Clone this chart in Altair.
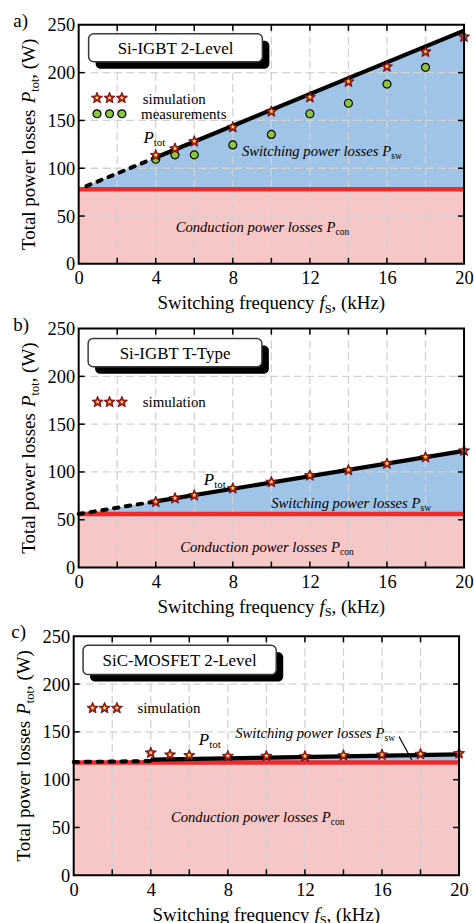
import math
import altair as alt
import pandas as pd

# ---------------- data ----------------
fs_sim = [4, 5, 6, 8, 10, 12, 14, 16, 18, 20]
fs_meas = [4, 5, 6, 8, 10, 12, 14, 16, 18]

sim_a = [114, 121, 128.5, 143.4, 159.8, 174.7, 191, 206.7, 222.3, 238]
meas_a = [109.4, 114, 114, 124.4, 135.4, 157, 168, 188, 205.6]
sim_b = [69.2, 72.9, 76, 83.3, 89.9, 96.8, 102.4, 109.2, 115.9, 122.7]
sim_c = [128.6, 126.5, 125.8, 125.1, 125.1, 124.8, 125.8, 126.5, 127.2, 127.9]

pcon_a, pcon_b, pcon_c = 78, 56, 118

dash_fs_a = [0.4, 4]
dash_a = [81.3, 111.2]
solid_fs_a = [4, 20]
solid_a = [111.2, 244]
area_fs_a = [0, 20]
area_a = [78, 244]

dash_fs_b = [0, 4]
dash_b = [56, 69.2]
solid_fs_b = [4, 20]
solid_b = [69.2, 122]
area_fs_b = [0, 20]
area_b = [56, 122]

dash_fs_c = [0, 4]
dash_c = [118.5, 119.5]
solid_fs_c = [4, 20]
solid_c = [121, 126.5]
area_fs_c = [0, 4, 20]
area_c = [118, 121, 126.5]

x_tick_labels = [0, 4, 8, 12, 16, 20]
y_tick_labels = [0, 50, 100, 150, 200, 250]
grid_x = [2, 4, 6, 8, 10, 12, 14, 16, 18]
grid_y = [50, 100, 150, 200]

box_titles = ["Si-IGBT 2-Level", "Si-IGBT T-Type", "SiC-MOSFET 2-Level"]
panel_tags = ["a)", "b)", "c)"]

# ---------------- styling ----------------
SERIF = "Liberation Serif"
W, H = 387, 240
PINK = "#f7c6c7"
BLUE = "#9fc4e7"
RED = "#ee2a2a"
GRID = "#d2d2d2"
STAR_FILL = "#b3161d"
STAR_STROKE = "#5e0909"
STAR_IN = "#f8ea3a"
GREEN = "#8cc63f"

pts = []
for k in range(10):
    a = math.radians(-90 + 36 * k)
    r = 1.0 if k % 2 == 0 else 0.45
    pts.append(f"{r * math.cos(a):.3f},{r * math.sin(a) + 0.09:.3f}")
STAR = "M" + "L".join(pts) + "Z"

REG = {' ': 250, '(': 333, ')': 333, ',': 250, '-': 333, '.': 250,
       'A': 722, 'B': 667, 'C': 667, 'D': 722, 'E': 611, 'F': 556, 'G': 722, 'H': 722,
       'I': 333, 'L': 611, 'M': 889, 'N': 722, 'O': 722, 'P': 556, 'S': 556, 'T': 611,
       'W': 944, 'a': 444, 'b': 500, 'c': 444, 'd': 500, 'e': 444, 'f': 333, 'g': 500,
       'h': 500, 'i': 278, 'k': 500, 'l': 278, 'm': 778, 'n': 500, 'o': 500, 'p': 500,
       'q': 500, 'r': 333, 's': 389, 't': 278, 'u': 500, 'v': 500, 'w': 722, 'y': 500,
       'z': 444}
for d in "0123456789":
    REG[d] = 500
ITA = {' ': 250, 'C': 667, 'P': 611, 'S': 500, 'a': 500, 'c': 444, 'd': 500, 'e': 444,
       'f': 278, 'g': 500, 'h': 500, 'i': 278, 'l': 278, 'n': 500, 'o': 500, 'p': 500,
       'r': 389, 's': 389, 't': 278, 'u': 500, 'w': 667}


def tw(s, size, italic=False):
    tab = ITA if italic else REG
    return sum(tab.get(c, 500) for c in s) * size / 1000.0


ONE = pd.DataFrame({"k": [0]})
ys = alt.Scale(domain=[0, 250], nice=False, zero=False)


def T(s, x, y, size, italic=False, angle=0, align="left", baseline="alphabetic"):
    kw = dict(text=s, font=SERIF, fontSize=size, color="black", align=align, baseline=baseline)
    if italic:
        kw["fontStyle"] = "italic"
    if angle:
        kw["angle"] = angle
    return alt.Chart(ONE).mark_text(**kw).encode(x=alt.value(x), y=alt.value(y))


def compose(pieces, x0, y0):
    out = []
    x = x0
    for s, size, it, dy in pieces:
        out.append(T(s, x, y0 + dy, size, it))
        x += tw(s, size, it)
    return out


def compose_v(pieces, x0, y0):
    out = []
    y = y0
    for s, size, it, dx in pieces:
        out.append(T(s, x0 + dx, y, size, it, angle=270))
        y -= tw(s, size, it)
    return out


def star_glyph(x, y):
    return [
        alt.Chart(ONE).mark_point(shape=STAR, filled=True, fill=STAR_FILL, stroke=STAR_STROKE,
                                  strokeWidth=0.8, size=140, opacity=1)
        .encode(x=alt.value(x), y=alt.value(y)),
        alt.Chart(ONE).mark_point(shape=STAR, filled=True, fill=STAR_IN, strokeWidth=0,
                                  size=22, opacity=1)
        .encode(x=alt.value(x), y=alt.value(y)),
    ]


def circle_glyph(x, y):
    return alt.Chart(ONE).mark_point(shape="circle", filled=True, fill=GREEN, stroke="black",
                                     strokeWidth=1.2, size=64, opacity=1).encode(
        x=alt.value(x), y=alt.value(y))


def rect(x1, y1, x2, y2, **kw):
    return alt.Chart(ONE).mark_rect(**kw).encode(
        x=alt.value(x1), x2=alt.value(x2), y=alt.value(y1), y2=alt.value(y2))


def panel(i, pcon, area_fs, area_p, dash_fs, dash_p, solid_fs, solid_p, sim, meas, opt):
    sh = opt.get("shift", 0)  # horizontal shift of this panel's plot area (pixels)
    xs = alt.Scale(domain=[0, 20], range=[sh, W + sh], nice=False, zero=False)
    xaxis = alt.Axis(values=x_tick_labels, title=None, ticks=False, tickSize=0, domain=False,
                     grid=False, labelFont=SERIF, labelFontSize=18.5, labelColor="black",
                     labelPadding=5, labelFlush=False)
    yaxis = alt.Axis(values=y_tick_labels, title=None, ticks=False, tickSize=0, domain=False,
                     grid=False, labelFont=SERIF, labelFontSize=18.5, labelColor="black",
                     labelPadding=4, labelFlush=False, offset=-sh)

    def X(f):
        return alt.X(f, scale=xs, axis=xaxis)

    def Y(f):
        return alt.Y(f, scale=ys, axis=yaxis)

    pink_df = pd.DataFrame({"fs": [0, 20], "p": [pcon, pcon]})
    blue_df = pd.DataFrame({"fs": area_fs, "p": area_p, "base": [pcon] * len(area_fs)})
    layers = [
        alt.Chart(pink_df).mark_area(color=PINK, opacity=1).encode(x=X("fs:Q"), y=Y("p:Q")),
        alt.Chart(blue_df).mark_area(color=BLUE, opacity=1).encode(
            x=X("fs:Q"), y=Y("p:Q"), y2="base:Q"),
        alt.Chart(pd.DataFrame({"g": grid_x})).mark_rule(color=GRID, strokeWidth=1.3,
                                                         strokeDash=[8, 4]).encode(x=X("g:Q")),
        alt.Chart(pd.DataFrame({"g": grid_y})).mark_rule(color=GRID, strokeWidth=1.3,
                                                         strokeDash=[8, 4]).encode(
            y=Y("g:Q"), x=alt.value(sh), x2=alt.value(W + sh)),
        alt.Chart(pink_df).mark_line(color=RED, strokeWidth=4.5).encode(x=X("fs:Q"), y=Y("p:Q")),
        alt.Chart(pd.DataFrame({"fs": solid_fs, "p": solid_p})).mark_line(
            color="black", strokeWidth=4.2).encode(x=X("fs:Q"), y=Y("p:Q")),
        alt.Chart(pd.DataFrame({"fs": dash_fs, "p": dash_p})).mark_line(
            color="black", strokeWidth=4, strokeDash=[4.5, 7.5], strokeCap="round").encode(
            x=X("fs:Q"), y=Y("p:Q")),
    ]
    if meas is not None:
        layers.append(
            alt.Chart(pd.DataFrame({"fs": fs_meas, "p": meas})).mark_point(
                shape="circle", filled=True, fill=GREEN, stroke="black", strokeWidth=1.2,
                size=64, opacity=1).encode(x=X("fs:Q"), y=Y("p:Q")))
    sim_df = pd.DataFrame({"fs": fs_sim, "p": sim})
    layers += [
        alt.Chart(sim_df).mark_point(shape=STAR, filled=True, fill=STAR_FILL, stroke=STAR_STROKE,
                                     strokeWidth=0.8, size=140, opacity=1)
        .encode(x=X("fs:Q"), y=Y("p:Q")),
        alt.Chart(sim_df).mark_point(shape=STAR, filled=True, fill=STAR_IN, strokeWidth=0,
                                     size=22, opacity=1)
        .encode(x=X("fs:Q"), y=Y("p:Q")),
    ]

    # inward ticks
    tx = pd.DataFrame({"g": grid_x})
    ty = pd.DataFrame({"g": grid_y})
    layers += [
        alt.Chart(tx).mark_rule(color="black", strokeWidth=1.5).encode(
            x=X("g:Q"), y=alt.value(H), y2=alt.value(H - 6)),
        alt.Chart(tx).mark_rule(color="black", strokeWidth=1.5).encode(
            x=X("g:Q"), y=alt.value(0), y2=alt.value(6)),
        alt.Chart(ty).mark_rule(color="black", strokeWidth=1.5).encode(
            y=Y("g:Q"), x=alt.value(sh), x2=alt.value(sh + 6)),
        alt.Chart(ty).mark_rule(color="black", strokeWidth=1.5).encode(
            y=Y("g:Q"), x=alt.value(W + sh), x2=alt.value(W + sh - 6)),
    ]

    # annotations
    px, pb = opt["ptot"]
    layers += compose([("P", 17, True, 0), ("tot", 11, False, 3)], px + sh, pb)
    sx, sb = opt["psw"]
    layers += compose([("Switching power losses P", 14.7, True, 0), ("sw", 9.5, False, 3)],
                      sx + sh, sb)
    cx, cb = opt["pcon"]
    layers += compose([("Conduction power losses P", 14.7, True, 0), ("con", 9.5, False, 3)],
                      cx + sh, cb)
    if "arrow" in opt:
        (ax1, ay1), (ax2, ay2) = opt["arrow"]
        layers.append(alt.Chart(ONE).mark_rule(color="black", strokeWidth=1.2).encode(
            x=alt.value(ax1 + sh), y=alt.value(ay1), x2=alt.value(ax2 + sh), y2=alt.value(ay2)))

    # legend
    lxs, ly, ltx, ltb = opt["leg_sim"]
    for gx in lxs:
        layers += star_glyph(gx + sh, ly)
    layers.append(T("simulation", ltx + sh, ltb, 15))
    if "leg_meas" in opt:
        mxs, my, mtx, mtb = opt["leg_meas"]
        for gx in mxs:
            layers.append(circle_glyph(gx + sh, my))
        layers.append(T("measurements", mtx + sh, mtb, 15))

    # title box with shadow
    bx, by, bw, bh = opt["box"]
    bx += sh
    layers += [
        rect(bx + 7, by + 7, bx + bw + 7, by + bh + 7, fill="black", cornerRadius=5),
        rect(bx, by, bx + bw, by + bh, fill="white", stroke="#3a3a3a", strokeWidth=1.5,
             cornerRadius=5),
        T(box_titles[i], bx + bw / 2, by + bh / 2 + 1, 17, align="center", baseline="middle"),
    ]

    # frame
    layers.append(rect(sh, 0, W + sh, H, filled=False, stroke="black", strokeWidth=2))

    # axis titles (composed so that P and f can be italic with subscripts)
    xt = [("Switching frequency ", 19, False, 0), ("f", 19, True, 0), ("S", 12.5, False, 3.5),
          (", (kHz)", 19, False, 0)]
    xl = sum(tw(s, z, it) for s, z, it, _ in xt)
    layers += compose(xt, W / 2 + sh - xl / 2, H + 45.6)
    yt = [("Total power losses ", 19, False, 0), ("P", 19, True, 0), ("tot", 12.5, False, 4),
          (", (W)", 19, False, 0)]
    yl = sum(tw(s, z, it) for s, z, it, _ in yt)
    layers += compose_v(yt, -44 + sh, H / 2 + yl / 2)

    # panel tag
    layers.append(T(panel_tags[i], opt["tag_x"] + sh, 2, 19))

    # invisible extent rectangle (controls layout spacing)
    t, b = opt["extent"]
    layers.append(rect(-78.3, -t, W + 6, H + b, opacity=0))

    return alt.layer(*layers).properties(width=W, height=H)


pa = panel(0, pcon_a, area_fs_a, area_a, dash_fs_a, dash_a, solid_fs_a, solid_a, sim_a, meas_a, {
    "ptot": (65, 119), "psw": (164, 131.3), "pcon": (97.4, 208),
    "leg_sim": ([18.4, 31, 43.4], 73, 64.4, 79),
    "leg_meas": ([18.4, 31, 43.4], 89.3, 62.7, 94.6),
    "box": (10, 9, 174.5, 28), "tag_x": -65.6, "extent": (22.7, 49.8)})

pb = panel(1, pcon_b, area_fs_b, area_b, dash_fs_b, dash_b, solid_fs_b, solid_b, sim_b, None, {
    "ptot": (125.7, 156.7), "psw": (193.4, 180), "pcon": (102, 224.3),
    "leg_sim": ([19, 31, 43.4], 73.3, 64.4, 78.3),
    "box": (9.5, 10, 174.5, 28.3), "tag_x": -65.6, "extent": (13, 52)})

pc = panel(2, pcon_c, area_fs_c, area_c, dash_fs_c, dash_c, solid_fs_c, solid_c, sim_c, None, {
    "ptot": (125.7, 109), "psw": (162.3, 102.4), "pcon": (97.7, 186.4),
    "arrow": ((326.7, 100.7), (339.4, 124)),
    "leg_sim": ([19, 31, 43.4], 71.7, 64, 77.4),
    "box": (9.4, 9, 194, 29.5), "tag_x": -62.6, "extent": (16.3, 52), "shift": -5})

chart = alt.concat(pa, pb, pc, columns=1, spacing=0, bounds="full").properties(
    padding=0).configure_view(stroke=None)

chart.save("out.html", embed_options={"renderer": "svg", "actions": False})
